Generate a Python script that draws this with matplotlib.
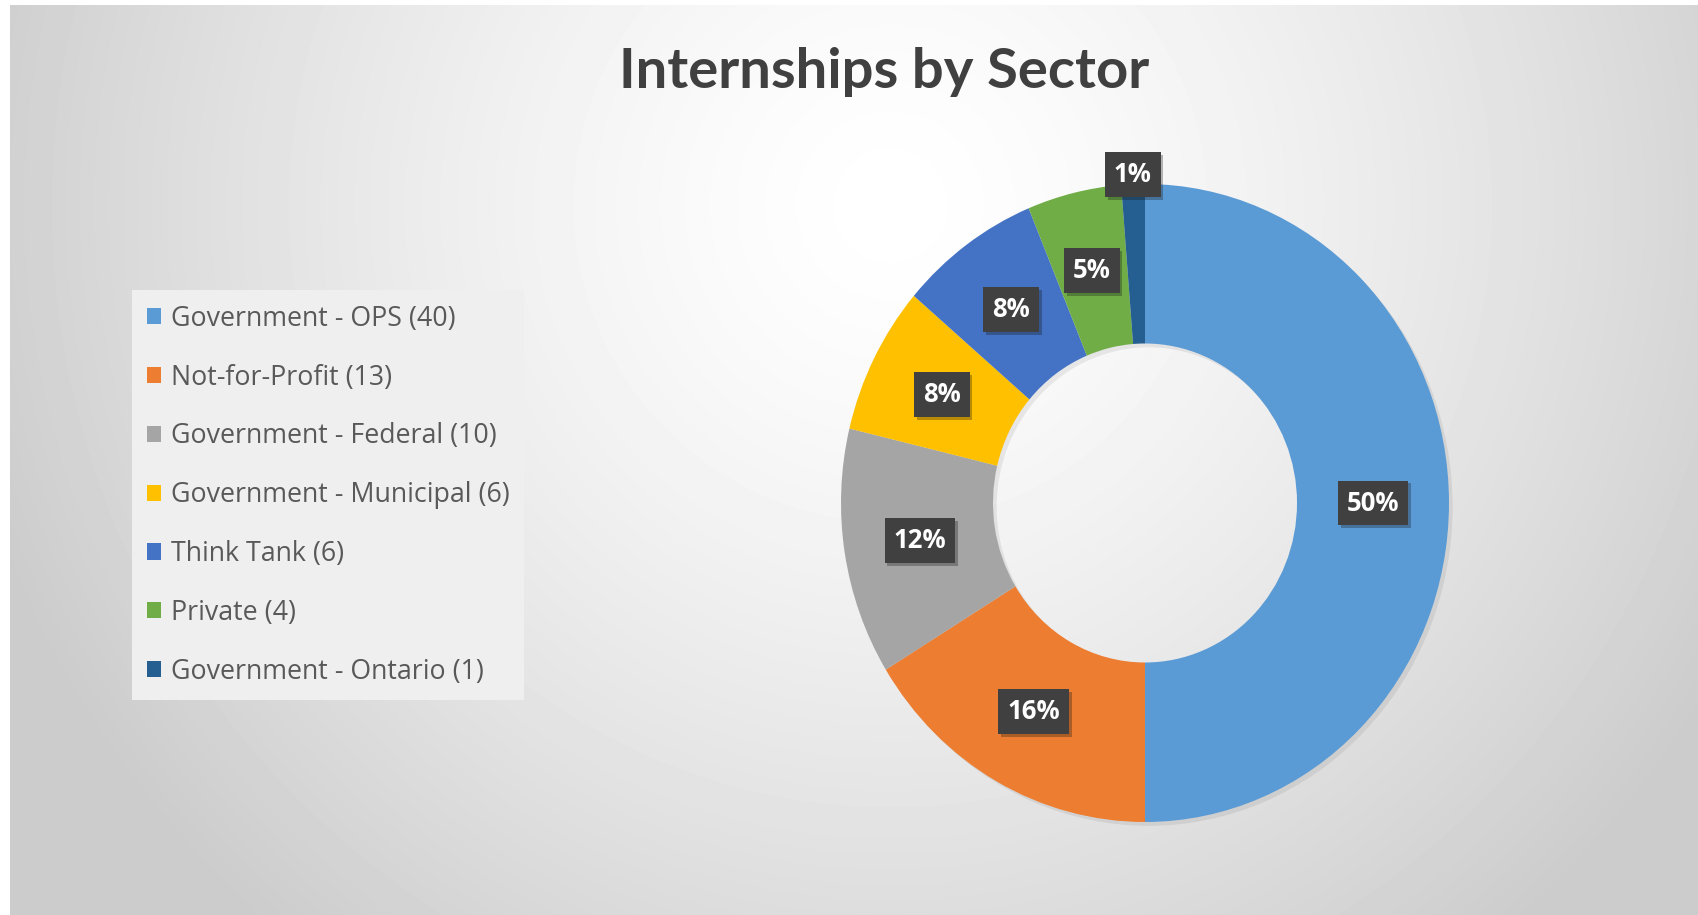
import numpy as np
import matplotlib
matplotlib.use("Agg")
import matplotlib.pyplot as plt
from matplotlib.patches import Patch
import matplotlib.patheffects as pe

sectors = ["Government - OPS", "Not-for-Profit", "Government - Federal",
           "Government - Municipal", "Think Tank", "Private", "Government - Ontario"]
counts = [40, 13, 10, 6, 6, 4, 1]
colors = ["#5B9BD5", "#ED7D31", "#A5A5A5", "#FFC000", "#4472C4", "#70AD47", "#255E91"]
title = "Internships by Sector"

W, H = 1699, 915
fig = plt.figure(figsize=(W / 100, H / 100), dpi=100)
fig.patch.set_facecolor("white")

# radial gradient background (chart area starts a few px in from top/left)
bg = fig.add_axes([10 / W, 0, 1 - 10 / W, 1 - 5 / H], zorder=0)
yy, xx = np.mgrid[0:910, 0:1689]
d = np.hypot(xx - 880, yy - 200)
shade = 1.0 - 0.20 * np.clip(d / 950, 0, 1) ** 1.4
bg.imshow(shade, cmap="gray", vmin=0, vmax=1, aspect="auto", interpolation="bilinear")
bg.axis("off")

fig.text(884 / W, 1 - 72 / H, title, ha="center", va="center",
         fontsize=40.5, fontweight="bold", color="#404040", family="Lato")

# donut (the source image is slightly squeezed horizontally)
Rx, Ry = 304, 319
cx, cy = 1145, 503
ax = fig.add_axes([(cx - Rx) / W, (H - cy - Ry) / H, 2 * Rx / W, 2 * Ry / H], zorder=1)
inner = 0.5
# soft shadow ring behind the donut
ax.pie([1], colors=["black"], radius=1.0, center=(0.012, -0.012),
       wedgeprops=dict(width=1 - inner, linewidth=0, alpha=0.07))
wedges, _ = ax.pie(counts, colors=colors, startangle=90, counterclock=False, radius=1,
                   wedgeprops=dict(width=1 - inner, linewidth=0))
ax.set_aspect("auto")
ax.set_xlim(-1, 1)
ax.set_ylim(-1, 1)
ax.axis("off")

total = sum(counts)
for w, v in zip(wedges, counts):
    mid = np.deg2rad((w.theta1 + w.theta2) / 2)
    r = (1 + inner) / 2 if v / total > 0.03 else 1.03
    t = ax.text(r * np.cos(mid), r * np.sin(mid), f"{round(v / total * 100)}%",
                ha="center", va="center", color="white", fontsize=18.5, fontweight="bold",
                family="Open Sans", clip_on=False,
                bbox=dict(boxstyle="square,pad=0.35", fc="#404040", ec="none"))
    t.get_bbox_patch().set_path_effects([pe.SimplePatchShadow(offset=(2, -2), alpha=0.3), pe.Normal()])

handles = [Patch(facecolor=c, edgecolor="none") for c in colors]
labels = [f"{s} ({c})" for s, c in zip(sectors, counts)]
leg = fig.legend(handles, labels, loc="upper left", bbox_to_anchor=(132 / W, 1 - 290 / H),
                 frameon=True, fancybox=False, facecolor="#efefef", edgecolor="none",
                 framealpha=1, borderaxespad=0, borderpad=0.55, handlelength=0.55, handleheight=0.55,
                 handletextpad=0.35, labelspacing=1.15, prop=dict(family="Open Sans", size=19.3))
for t in leg.get_texts():
    t.set_color("#595959")

fig.savefig("out.png", dpi=100)
